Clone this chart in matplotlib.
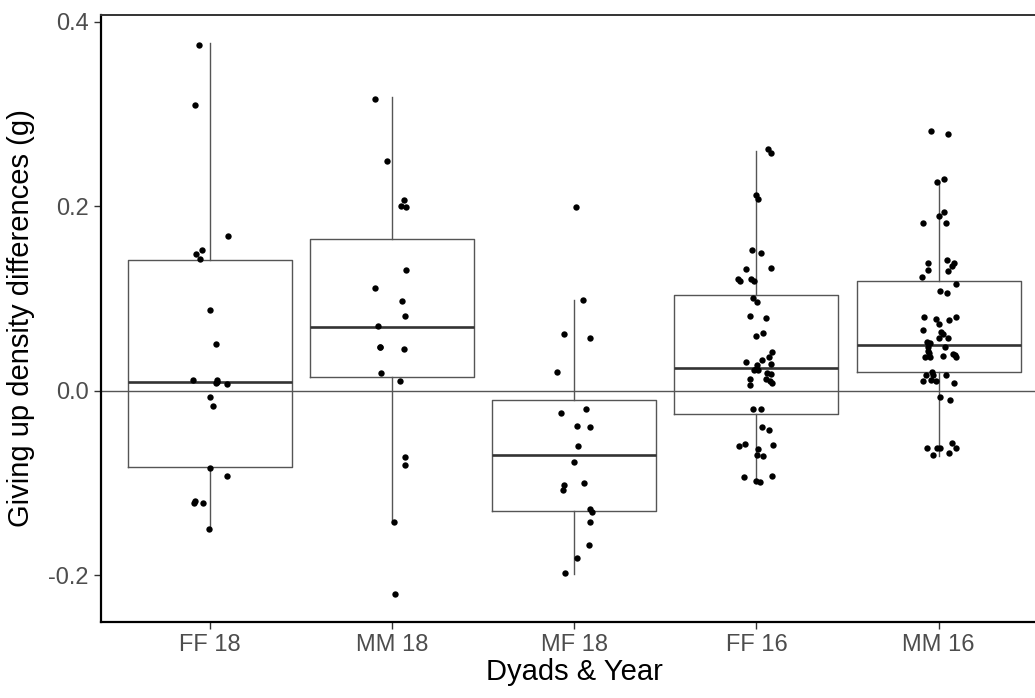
import matplotlib
matplotlib.use("Agg")
import matplotlib.pyplot as plt

categories = ["FF 18", "MM 18", "MF 18", "FF 16", "MM 16"]

ff18_vals = [0.3749, 0.3102, 0.1683, 0.1531, 0.1488, 0.1430, 0.0878, 0.0506, 0.0119, 0.0116,
             0.0101, 0.0090, 0.0079, -0.0065, -0.0166, -0.0831, -0.0917, -0.1188, -0.1213, -0.1220,
             -0.1495]
ff18_jit = [-0.058, -0.083, 0.098, -0.043, -0.074, -0.055, 0.001, 0.036, -0.094, 0.038,
            0.037, 0.034, 0.096, 0.001, 0.016, 0.003, 0.093, -0.081, -0.085, -0.039,
            -0.003]

mm18_vals = [0.3164, 0.2495, 0.2066, 0.2004, 0.1994, 0.1307, 0.1120, 0.0975, 0.0816, 0.0705,
             0.0480, 0.0476, 0.0458, 0.0192, 0.0112, -0.0719, -0.0802, -0.1419, -0.2206]
mm18_jit = [-0.092, -0.026, 0.066, 0.051, 0.079, 0.079, -0.093, 0.057, 0.071, -0.077,
            -0.068, -0.066, 0.068, -0.062, 0.042, 0.073, 0.073, 0.011, 0.015]

mf18_vals = [0.1990, 0.0989, 0.0614, 0.0571, 0.0203, -0.0199, -0.0235, -0.0379, -0.0390, -0.0599,
             -0.0766, -0.0993, -0.1018, -0.1069, -0.1278, -0.1314, -0.1423, -0.1672, -0.1810, -0.1975]
mf18_jit = [0.009, 0.049, -0.057, 0.086, -0.092, 0.066, -0.075, 0.016, 0.088, 0.018,
            -0.004, 0.051, -0.057, -0.064, 0.084, 0.100, 0.089, 0.080, 0.016, -0.050]

ff16_vals = [0.2622, 0.2575, 0.2124, 0.2077, 0.1524, 0.1491, 0.1322, 0.1333, 0.1210, 0.1192,
             0.1217, 0.1192, 0.1008, 0.0968, 0.0809, 0.0794, 0.0625, 0.0593, 0.0426, 0.0372,
             0.0314, 0.0332, 0.0296, 0.0282, 0.0242, 0.0228, 0.0228, 0.0192, 0.0184, 0.0130,
             0.0130, 0.0112, 0.0083, 0.0065, -0.0199, -0.0199, -0.0394, -0.0419, -0.0596, -0.0578,
             -0.0585, -0.0632, -0.0693, -0.0704, -0.0932, -0.0925, -0.0972, -0.0986]
ff16_jit = [0.063, 0.079, -0.003, 0.009, -0.024, 0.027, -0.060, 0.080, -0.099, -0.093,
            -0.031, -0.011, -0.018, 0.004, -0.033, 0.053, 0.037, -0.005, 0.088, 0.068,
            -0.060, 0.030, 0.080, 0.002, -0.003, -0.016, 0.006, 0.057, 0.079, -0.038,
            0.055, 0.072, 0.086, -0.038, -0.020, 0.026, 0.033, 0.070, -0.095, -0.063,
            0.090, 0.011, 0.005, 0.037, -0.067, 0.088, -0.005, 0.019]

mm16_vals = [0.2817, 0.2788, 0.2300, 0.2264, 0.1936, 0.1900, 0.1820, 0.1820, 0.1419, 0.1390,
             0.1383, 0.1358, 0.1314, 0.1300, 0.1235, 0.1159, 0.1087, 0.1065, 0.0805, 0.0783,
             0.0772, 0.0802, 0.0729, 0.0661, 0.0636, 0.0614, 0.0574, 0.0574, 0.0528, 0.0524,
             0.0480, 0.0480, 0.0437, 0.0408, 0.0372, 0.0372, 0.0379, 0.0401, 0.0390, 0.0372,
             0.0202, 0.0173, 0.0173, 0.0173, 0.0105, 0.0119, 0.0108, 0.0087, -0.0068, -0.0094,
             -0.0567, -0.0614, -0.0614, -0.0621, -0.0621, -0.0672, -0.0697]
mm16_jit = [-0.044, 0.049, 0.030, -0.011, 0.029, 0.002, -0.085, 0.041, 0.044, -0.057,
            0.082, 0.075, -0.060, 0.049, -0.091, 0.096, 0.007, 0.044, -0.078, -0.016,
            0.059, 0.097, 0.002, -0.087, 0.015, 0.024, 0.000, 0.052, -0.066, -0.049,
            -0.060, 0.037, -0.057, -0.051, -0.075, -0.046, 0.026, 0.079, 0.088, 0.093,
            -0.036, -0.068, 0.041, -0.029, -0.085, -0.040, -0.016, 0.086, 0.006, 0.060,
            0.075, -0.066, -0.007, 0.007, 0.093, 0.055, -0.031]

# box statistics
box_q1 = [-0.0823, 0.0152, -0.1297, -0.0253, 0.0202]
box_med = [0.0101, 0.0697, -0.0697, 0.0246, 0.0495]
box_q3 = [0.1419, 0.1644, -0.0101, 0.1044, 0.1195]
box_lo = [-0.1495, -0.1419, -0.1985, -0.0990, -0.0705]
box_hi = [0.3770, 0.3187, 0.0989, 0.2600, 0.2278]

y_ticks = [-0.2, 0.0, 0.2, 0.4]
y_ticklabels = ["-0.2", "0.0", "0.2", "0.4"]

groups_vals = [ff18_vals, mm18_vals, mf18_vals, ff16_vals, mm16_vals]
groups_jit = [ff18_jit, mm18_jit, mf18_jit, ff16_jit, mm16_jit]

plt.rcParams['font.family'] = ['Liberation Sans', 'DejaVu Sans']

W, H = 1035, 698
fig = plt.figure(figsize=(W / 100, H / 100), dpi=100)
left_px, right_px, top_px, bot_px = 100.5, 1048, 15, 622
ax = fig.add_axes([left_px / W, 1 - bot_px / H, (right_px - left_px) / W, (bot_px - top_px) / H])

positions = list(range(1, len(categories) + 1))
stats = []
for i in range(len(categories)):
    stats.append(dict(q1=box_q1[i], med=box_med[i], q3=box_q3[i],
                      whislo=box_lo[i], whishi=box_hi[i], fliers=[]))

edge = "#555555"
ax.bxp(stats, positions=positions, widths=0.9, showfliers=False, showcaps=False,
       boxprops=dict(color=edge, linewidth=1.0),
       whiskerprops=dict(color=edge, linewidth=1.0),
       medianprops=dict(color="#333333", linewidth=1.9),
       zorder=2)

ax.axhline(0, color="#555555", linewidth=1.0, zorder=2.5)

for i, (vals, jit) in enumerate(zip(groups_vals, groups_jit)):
    xs = [positions[i] + j for j in jit]
    ax.scatter(xs, vals, s=21, color="black", linewidths=0, zorder=3)

ax.set_xlim(0.4, 5.6)
ax.set_ylim(-0.2504, 0.4073)
ax.set_xticks(positions)
ax.set_xticklabels(categories)
ax.set_yticks(y_ticks)
ax.set_yticklabels(y_ticklabels)

ax.tick_params(axis='both', labelsize=17, labelcolor="#4D4D4D", color="#333333",
               length=5.3, width=1.0, pad=3)

for side in ['left', 'bottom']:
    ax.spines[side].set_color('black')
    ax.spines[side].set_linewidth(1.6)
ax.spines['top'].set_color('#333333')
ax.spines['top'].set_linewidth(1.4)
ax.spines['right'].set_color('#333333')

ax.set_xlabel("Dyads & Year", fontsize=21, labelpad=2)
ax.set_ylabel("Giving up density differences (g)", fontsize=21)
ax.yaxis.set_label_coords(-0.069, 0.5)

fig.savefig("out.png", dpi=100)
